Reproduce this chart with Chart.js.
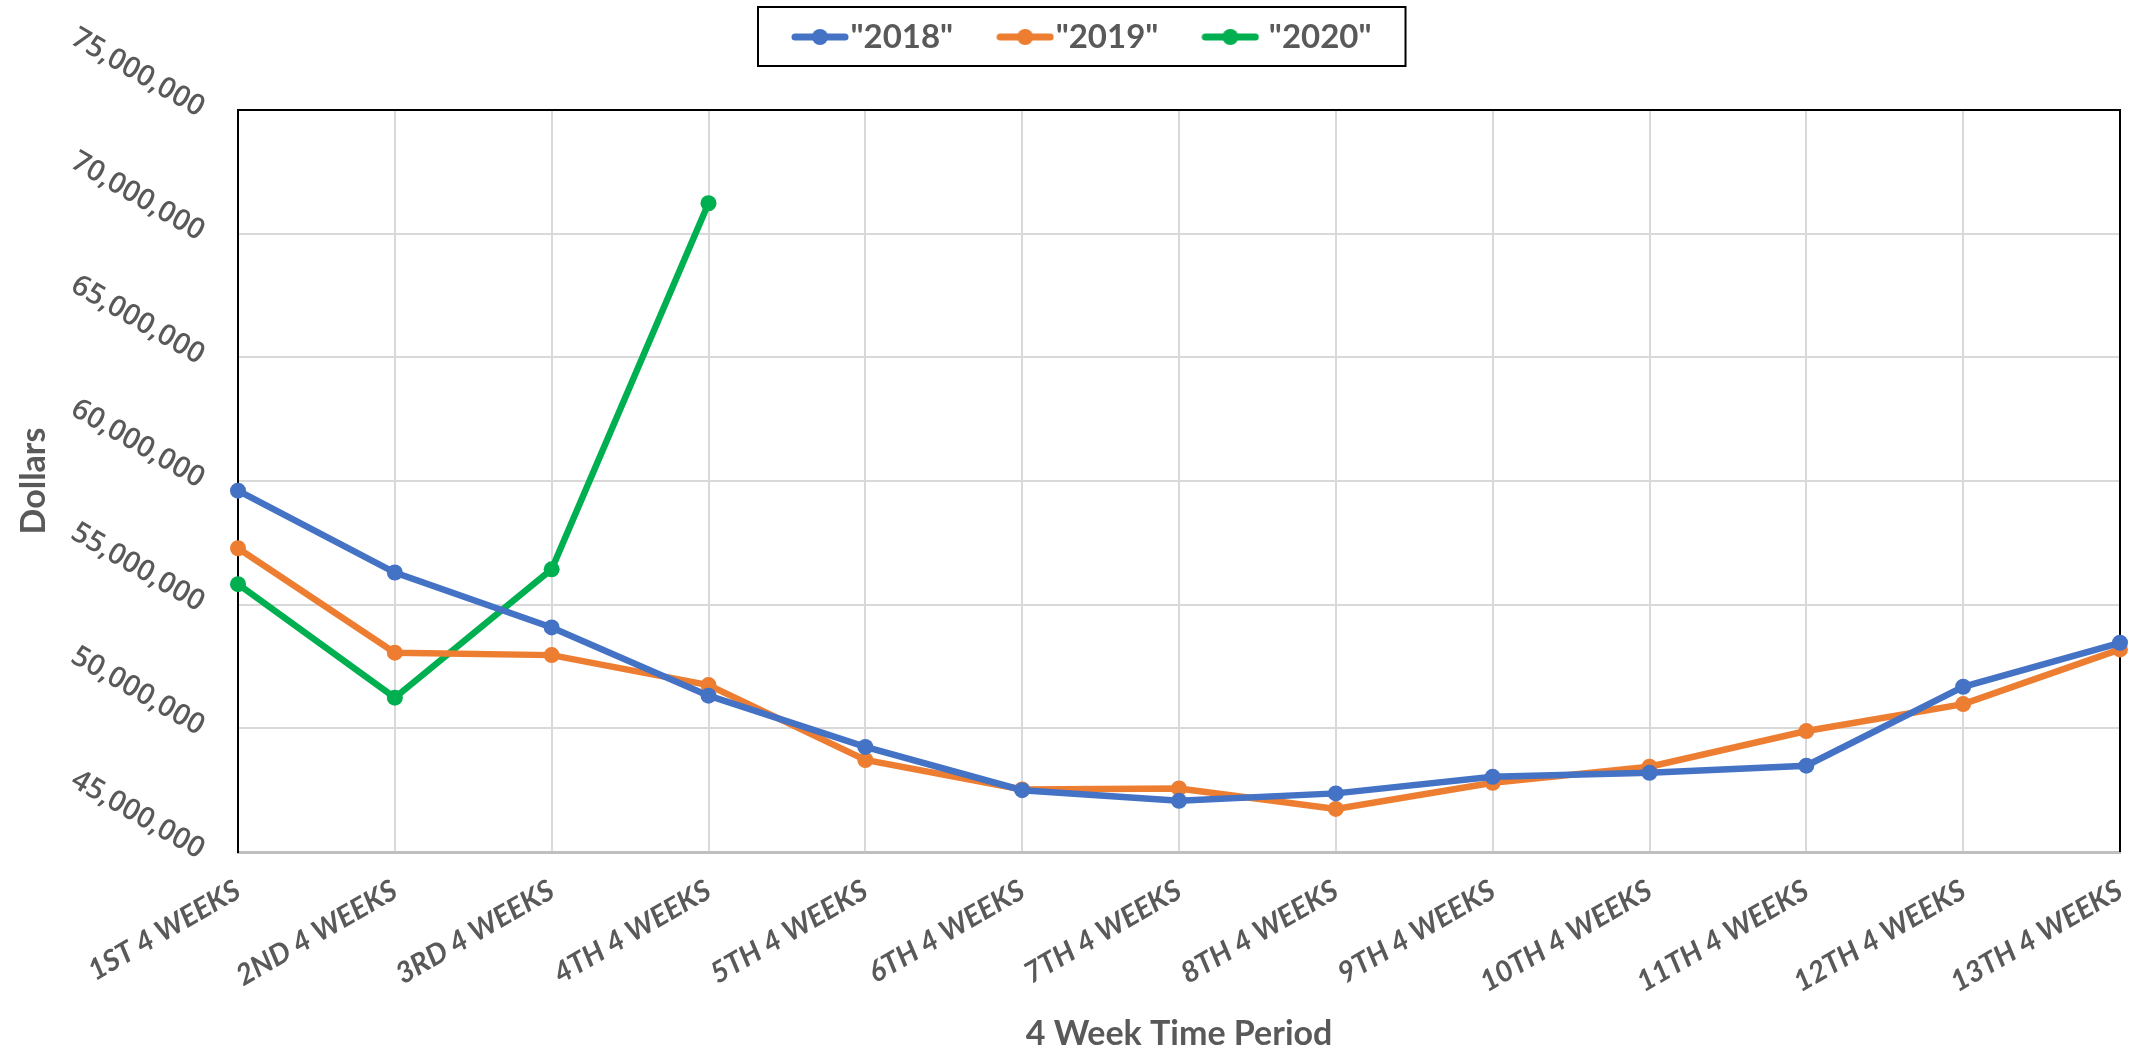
<!DOCTYPE html>
<html>
<head>
<meta charset="utf-8">
<title>Sales by 4 Week Period</title>
<script src="https://cdn.jsdelivr.net/npm/chart.js@4.4.1/dist/chart.umd.min.js"></script>
<style>
  html, body { margin: 0; padding: 0; background: #ffffff; }
  #wrap { width: 2147px; height: 1051px; }
</style>
</head>
<body>
<div id="wrap"><canvas id="chart" width="2147" height="1051"></canvas></div>
<script>
// Period labels along the x axis
const periods = [
  '1ST 4 WEEKS', '2ND 4 WEEKS', '3RD 4 WEEKS', '4TH 4 WEEKS', '5TH 4 WEEKS',
  '6TH 4 WEEKS', '7TH 4 WEEKS', '8TH 4 WEEKS', '9TH 4 WEEKS', '10TH 4 WEEKS',
  '11TH 4 WEEKS', '12TH 4 WEEKS', '13TH 4 WEEKS'
];

// Dollar totals per period, by year
const sales2018 = [59610000, 56300000, 54080000, 51320000, 49250000, 47500000, 47070000,
                   47370000, 48040000, 48200000, 48490000, 51680000, 53460000];
const sales2019 = [57280000, 53060000, 52960000, 51750000, 48720000, 47530000, 47570000,
                   46740000, 47800000, 48450000, 49890000, 50980000, 53190000];
const sales2020 = [55830000, 51240000, 56430000, 71230000, null, null, null,
                   null, null, null, null, null, null];

const seriesNames = ['"2018"', '"2019"', ' "2020"'];
const seriesColors = ['#4472C4', '#ED7D31', '#00B050'];

// Value axis range
const yMin = 45000000;
const yMax = 75000000;
const yStep = 5000000;

const textGray = '#595959';
const gridGray = '#d9d9d9';

// Legend marker: short line with a dot in the middle
const MARKER_W = 58;
function makeMarker(color) {
  const c = document.createElement('canvas');
  c.width = MARKER_W; c.height = 18;
  const g = c.getContext('2d');
  g.strokeStyle = color;
  g.lineWidth = 7;
  g.lineCap = 'round';
  g.beginPath();
  g.moveTo(4, 9); g.lineTo(MARKER_W - 4, 9);
  g.stroke();
  g.fillStyle = color;
  g.beginPath();
  g.arc(MARKER_W / 2, 9, 8, 0, Math.PI * 2);
  g.fill();
  return c;
}
const markers = seriesColors.map(makeMarker);

const LEGEND_FONT = 33;
const LEGEND_PAD = 58;
const LEGEND_BOX_W = 28;
const LEGEND_CENTER_Y = 37;
const LEGEND_FIRST_MARKER_X = 791;

// Places the legend row and draws the frame around the plot and the legend
const framePlugin = {
  id: 'framePlugin',
  afterLayout(chart) {
    const lg = chart.legend;
    if (!lg || !lg.lineWidths) return;
    const h = lg.height;
    lg.top = LEGEND_CENTER_Y - LEGEND_PAD - LEGEND_FONT / 2;
    lg.bottom = lg.top + h;
    const start = (lg.left + LEGEND_PAD + lg.right - lg.lineWidths[0]) / 2;
    const markerLeft = start + LEGEND_BOX_W / 2 - MARKER_W / 2;
    const dx = LEGEND_FIRST_MARKER_X - markerLeft;
    lg.left += dx;
    lg.right += dx;
  },
  beforeDatasetsDraw(chart) {
    const { ctx, chartArea: a } = chart;
    ctx.save();
    ctx.strokeStyle = '#000000';
    ctx.lineWidth = 2;
    ctx.beginPath();
    ctx.moveTo(a.left - 1, a.top);
    ctx.lineTo(a.right, a.top);
    ctx.lineTo(a.right, a.bottom);
    ctx.stroke();
    ctx.restore();
  },
  afterDraw(chart) {
    const lg = chart.legend;
    if (!lg || !lg.legendHitBoxes || !lg.legendHitBoxes.length) return;
    const boxes = lg.legendHitBoxes;
    const first = boxes[0];
    const last = boxes[boxes.length - 1];
    const left = first.left + LEGEND_BOX_W / 2 - MARKER_W / 2 - 33;
    const right = last.left + last.width + 34;
    const top = LEGEND_CENTER_Y - 30;
    const bottom = LEGEND_CENTER_Y + 29;
    const ctx = chart.ctx;
    ctx.save();
    ctx.strokeStyle = '#000000';
    ctx.lineWidth = 2;
    ctx.strokeRect(left, top, right - left, bottom - top);
    ctx.restore();
  }
};

const datasets = [sales2018, sales2019, sales2020].map((vals, i) => ({
  label: seriesNames[i],
  data: vals,
  borderColor: seriesColors[i],
  backgroundColor: seriesColors[i],
  pointBackgroundColor: seriesColors[i],
  pointBorderColor: seriesColors[i],
  pointStyle: 'circle',
  borderWidth: 6.5,
  pointRadius: 8,
  pointBorderWidth: 0,
  tension: 0,
  spanGaps: false,
  clip: false
}));

new Chart(document.getElementById('chart'), {
  type: 'line',
  data: { labels: periods, datasets },
  options: {
    responsive: false,
    animation: false,
    devicePixelRatio: 1,
    layout: { padding: { left: 0, right: 0, top: 0, bottom: 0 } },
    plugins: {
      legend: {
        display: true,
        position: 'top',
        labels: {
          usePointStyle: true,
          pointStyleWidth: LEGEND_BOX_W,
          padding: LEGEND_PAD,
          color: textGray,
          font: { family: 'Lato', size: LEGEND_FONT, weight: 'bold' },
          generateLabels(chart) {
            return chart.data.datasets.map((ds, i) => ({
              text: ds.label,
              fillStyle: ds.borderColor,
              strokeStyle: ds.borderColor,
              fontColor: textGray,
              lineWidth: 0,
              pointStyle: markers[i],
              hidden: false,
              datasetIndex: i
            }));
          }
        }
      },
      tooltip: { enabled: false }
    },
    scales: {
      x: {
        type: 'category',
        offset: false,
        grid: { color: gridGray, lineWidth: 2, drawTicks: false },
        border: { color: '#bfbfbf', width: 3 },
        ticks: {
          autoSkip: false,
          minRotation: 30,
          maxRotation: 30,
          padding: 21,
          color: textGray,
          font: { family: 'Lato', size: 29, weight: 'bold', style: 'italic' }
        },
        title: {
          display: true,
          text: '4 Week Time Period',
          color: textGray,
          font: { family: 'Lato', size: 34, weight: 'bold', lineHeight: 1 },
          padding: { top: 0, bottom: 0 }
        },
        afterFit(scale) {
          scale.height = 199;
          scale.paddingLeft = 0;
          scale.paddingRight = 27;
        }
      },
      y: {
        min: yMin,
        max: yMax,
        grid: { color: gridGray, lineWidth: 2, drawTicks: false },
        border: { color: '#000000', width: 2 },
        ticks: {
          stepSize: yStep,
          minRotation: -30,
          maxRotation: -30,
          padding: 36,
          color: textGray,
          font: { family: 'Open Sans', size: 29, weight: '600' },
          callback: (v) => Number(v).toLocaleString('en-US')
        },
        title: {
          display: true,
          text: 'Dollars',
          color: textGray,
          font: { family: 'Lato', size: 34, weight: 'bold', lineHeight: 1 },
          padding: { top: 17, bottom: 0 }
        },
        afterFit(scale) {
          scale.width = 238;
          scale.paddingTop = 110;
          scale.paddingBottom = 0;
        }
      }
    }
  },
  plugins: [framePlugin]
});
</script>
</body>
</html>
